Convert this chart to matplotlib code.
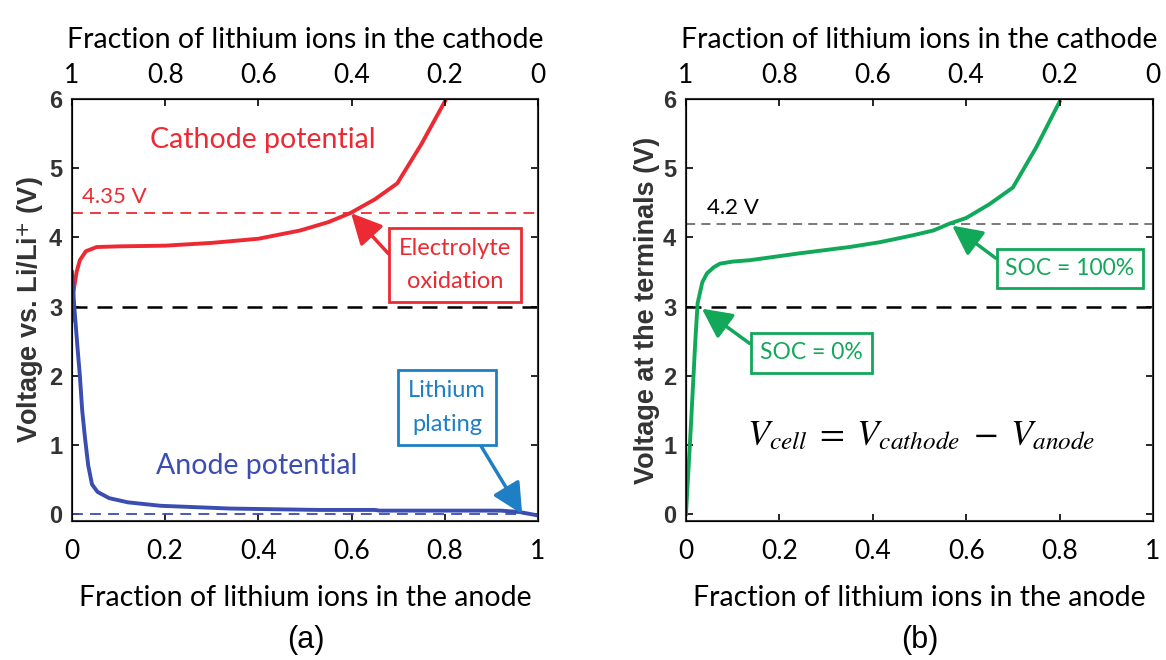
import matplotlib
matplotlib.use('Agg')
import matplotlib.pyplot as plt
import numpy as np

plt.rcParams['font.family'] = ['Lato', 'DejaVu Sans']
plt.rcParams['mathtext.fontset'] = 'stix'

# cathode potential vs. anode lithium fraction (panel a)
cat_x = [0, 0.003, 0.01, 0.017, 0.03, 0.053, 0.1, 0.2, 0.3, 0.4, 0.49, 0.55, 0.597, 0.65, 0.698, 0.75, 0.803]
cat_v = [2.8, 3.2, 3.5, 3.67, 3.8, 3.86, 3.87, 3.88, 3.92, 3.98, 4.1, 4.22, 4.35, 4.55, 4.78, 5.35, 6.0]

# anode potential (panel a)
ano_x = [0, 0.005, 0.012, 0.017, 0.022, 0.028, 0.035, 0.043, 0.055, 0.08, 0.12, 0.19, 0.34, 0.53, 0.65, 0.66, 0.92, 0.96, 1.0]
ano_v = [3.5, 3.0, 2.4, 2.0, 1.5, 1.1, 0.7, 0.43, 0.32, 0.23, 0.17, 0.12, 0.08, 0.06, 0.06, 0.05, 0.05, 0.03, -0.02]

# cell voltage at the terminals (panel b)
cell_x = [0, 0.01, 0.02, 0.025, 0.035, 0.045, 0.06, 0.073, 0.1, 0.137, 0.244, 0.35, 0.415, 0.458, 0.486, 0.53, 0.565, 0.60, 0.65, 0.70, 0.75, 0.80]
cell_v = [0, 1.2, 2.5, 3.05, 3.35, 3.48, 3.57, 3.62, 3.65, 3.67, 3.77, 3.86, 3.93, 3.99, 4.03, 4.1, 4.2, 4.28, 4.48, 4.72, 5.3, 5.96]

x_ticks = [0, 0.2, 0.4, 0.6, 0.8, 1]
x_ticklabels = ['0', '0.2', '0.4', '0.6', '0.8', '1']
y_ticks = [0, 1, 2, 3, 4, 5, 6]

red = '#ec2a33'
blue = '#3b4db0'
cyan = '#1f7fc4'
green = '#12a85a'

tick_fs = 19
lab_fs = 20.5
bold_font = ['Liberation Sans', 'DejaVu Sans']

fig = plt.figure(figsize=(11.66, 6.6), dpi=100)
ax1 = fig.add_axes([0.0617, 0.2106, 0.3997, 0.6394])
ax2 = fig.add_axes([0.5883, 0.2106, 0.4005, 0.6394])


def style_axes(ax, ylabel):
    ax.set_xlim(0, 1)
    ax.set_ylim(-0.1, 6)
    ax.set_xticks(x_ticks)
    ax.set_xticklabels(x_ticklabels, fontsize=tick_fs)
    ax.set_yticks(y_ticks)
    ax.set_yticklabels([str(v) for v in y_ticks], fontsize=17, fontweight='bold', family=bold_font, color='#333333')
    ax.tick_params(axis='x', direction='in', length=5, width=1.2, top=False, pad=13)
    ax.tick_params(axis='y', direction='in', length=5, width=1.2, right=True, pad=7)
    ax.set_xlabel('Fraction of lithium ions in the anode', fontsize=lab_fs, labelpad=15)
    ax.set_ylabel(ylabel, fontsize=19.5, fontweight='bold', family=bold_font, color='#333333', labelpad=2)
    for s in ax.spines.values():
        s.set_linewidth(1.5)
        s.set_color('#333333')
    top = ax.twiny()
    top.set_xlim(0, 1)
    top.set_xticks(x_ticks)
    top.set_xticklabels(x_ticklabels[::-1], fontsize=tick_fs)
    top.tick_params(direction='in', length=5, width=1.2, pad=8)
    top.set_xlabel('Fraction of lithium ions in the cathode', fontsize=lab_fs, labelpad=11)
    return top


style_axes(ax1, 'Voltage vs. Li/Li$^{\\mathbf{+}}$ (V)')
style_axes(ax2, 'Voltage at the terminals (V)')

# ---- panel (a)
ax1.axhline(3, color='black', ls=(0, (6, 4)), lw=1.8)
ax1.axhline(4.35, color=red, ls=(0, (6, 4)), lw=1.3)
ax1.axhline(0, color=blue, ls=(0, (6, 4)), lw=1.3)
ax1.plot(cat_x, cat_v, color=red, lw=2.8)
ax1.plot(ano_x, ano_v, color=blue, lw=2.8)

ax1.text(0.41, 5.41, 'Cathode potential', color=red, fontsize=20.5, ha='center', va='center')
ax1.text(0.022, 4.58, '4.35 V', color=red, fontsize=16, ha='left', va='center')
ax1.text(0.397, 0.70, 'Anode potential', color=blue, fontsize=20.5, ha='center', va='center')

ax1.annotate('Electrolyte\noxidation', xy=(0.599, 4.35), xytext=(0.822, 3.60),
             color=red, fontsize=17, ha='center', va='center', linespacing=1.75,
             bbox=dict(boxstyle='square,pad=0.4', fc='white', ec=red, lw=2),
             arrowprops=dict(arrowstyle='-|>,head_length=1.1,head_width=0.55', color=red, lw=2.5,
                             relpos=(0, 0.5), shrinkA=0, shrinkB=0))
ax1.annotate('Lithium\nplating', xy=(0.966, 0.0), xytext=(0.805, 1.54),
             color=cyan, fontsize=17, ha='center', va='center', linespacing=1.75,
             bbox=dict(boxstyle='square,pad=0.42', fc='white', ec=cyan, lw=2),
             arrowprops=dict(arrowstyle='-|>,head_length=1.1,head_width=0.55', color=cyan, lw=2.5,
                             relpos=(0.85, 0), shrinkA=0, shrinkB=0))

# ---- panel (b)
ax2.axhline(3, color='black', ls=(0, (6, 4)), lw=1.8)
ax2.axhline(4.2, color='#555555', ls=(0, (6, 4)), lw=1.1)
ax2.plot(cell_x, cell_v, color=green, lw=2.8)

ax2.text(0.045, 4.42, '4.2 V', color='black', fontsize=16, ha='left', va='center')
ax2.text(0.503, 1.14, r'$V_{cell}\;=\;V_{cathode}\;-\;V_{anode}$', fontsize=26, ha='center', va='center')

ax2.annotate('SOC = 100%', xy=(0.57, 4.17), xytext=(0.822, 3.55),
             color=green, fontsize=16.5, ha='center', va='center',
             bbox=dict(boxstyle='square,pad=0.38', fc='white', ec=green, lw=2),
             arrowprops=dict(arrowstyle='-|>,head_length=1.1,head_width=0.55', color=green, lw=2.5,
                             relpos=(0, 0.65), shrinkA=0, shrinkB=0))
ax2.annotate('SOC = 0%', xy=(0.034, 2.97), xytext=(0.268, 2.33),
             color=green, fontsize=16.5, ha='center', va='center',
             bbox=dict(boxstyle='square,pad=0.4', fc='white', ec=green, lw=2),
             arrowprops=dict(arrowstyle='-|>,head_length=1.1,head_width=0.55', color=green, lw=2.5,
                             relpos=(0, 0.6), shrinkA=0, shrinkB=0))

fig.text(0.262, 0.03, '(a)', fontsize=22, ha='center', va='center', family=bold_font)
fig.text(0.789, 0.03, '(b)', fontsize=22, ha='center', va='center', family=bold_font)

fig.savefig('out.png', dpi=100)
